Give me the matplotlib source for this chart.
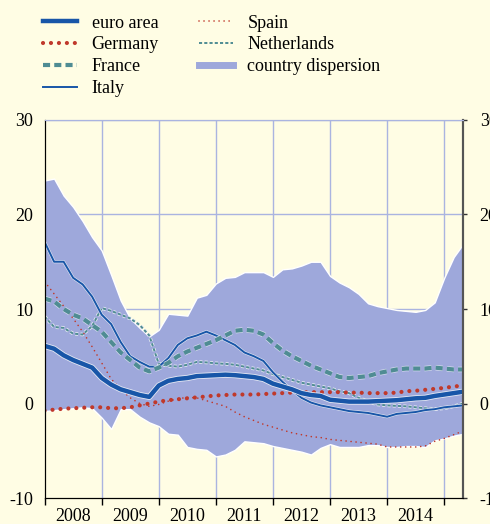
import numpy as np
import pandas as pd
import matplotlib
matplotlib.use("Agg")
import matplotlib.pyplot as plt
import matplotlib.patheffects as pe
from matplotlib.lines import Line2D

# --- DATA (bi-monthly, Jan 2008 - May 2015, %) ---
dates = pd.date_range("2008-01-01", periods=45, freq="2MS")

euro_area = [6.1, 5.8, 5.1, 4.6, 4.2, 3.8, 2.7, 2.0, 1.5, 1.2, 0.9, 0.7, 1.9, 2.4, 2.6,
             2.7, 2.9, 2.95, 3.0, 3.05, 3.0, 2.9, 2.8, 2.6, 2.1, 1.8, 1.5, 1.1, 0.9, 0.8,
             0.4, 0.3, 0.2, 0.2, 0.2, 0.25, 0.3, 0.35, 0.45, 0.55, 0.6, 0.8, 0.95, 1.1, 1.25]
germany = [-0.75, -0.65, -0.55, -0.5, -0.45, -0.4, -0.4, -0.5, -0.5, -0.4, -0.2, 0.0, 0.2,
           0.35, 0.45, 0.55, 0.65, 0.75, 0.85, 0.9, 0.95, 0.95, 0.95, 1.0, 1.05, 1.1, 1.15,
           1.2, 1.2, 1.2, 1.2, 1.2, 1.15, 1.15, 1.1, 1.1, 1.1, 1.15, 1.3, 1.35, 1.45, 1.55,
           1.65, 1.8, 1.9]
france = [11.1, 10.8, 10.0, 9.4, 9.0, 8.3, 7.6, 6.5, 5.4, 4.6, 3.8, 3.4, 3.8, 4.3, 5.0,
          5.5, 5.9, 6.3, 6.7, 7.2, 7.7, 7.8, 7.7, 7.3, 6.4, 5.6, 5.0, 4.5, 4.0, 3.6,
          3.2, 2.8, 2.7, 2.8, 2.9, 3.2, 3.4, 3.6, 3.7, 3.7, 3.7, 3.8, 3.7, 3.6, 3.6]
italy = [17.1, 15.0, 15.0, 13.3, 12.6, 11.3, 9.4, 8.4, 6.5, 5.0, 4.4, 3.9, 3.9, 4.8, 6.2,
         6.9, 7.2, 7.6, 7.2, 6.7, 6.2, 5.4, 5.0, 4.5, 3.3, 2.3, 1.4, 0.6, 0.1, -0.2,
         -0.4, -0.6, -0.8, -0.9, -1.0, -1.2, -1.4, -1.1, -1.0, -0.9, -0.7, -0.6, -0.4, -0.3, -0.2]
spain = [12.9, 11.6, 10.3, 9.0, 7.6, 6.0, 4.3, 2.6, 1.5, 0.6, 0.0, -0.3, -0.1, 0.25, 0.5,
         0.65, 0.6, 0.3, 0.0, -0.3, -0.9, -1.4, -1.8, -2.2, -2.5, -2.8, -3.1, -3.3, -3.5, -3.6,
         -3.8, -3.9, -4.0, -4.1, -4.2, -4.3, -4.6, -4.6, -4.6, -4.6, -4.5, -4.0, -3.7, -3.3, -2.9]
netherlands = [9.2, 8.1, 8.0, 7.4, 7.3, 8.2, 10.1, 9.8, 9.4, 9.0, 8.3, 7.2, 4.2, 4.0, 3.9,
               4.1, 4.4, 4.35, 4.25, 4.2, 4.1, 3.9, 3.7, 3.5, 3.1, 2.8, 2.5, 2.2, 2.0, 1.8,
               1.6, 1.3, 1.1, 0.6, 0.2, -0.1, -0.2, -0.25, -0.3, -0.4, -0.5, -0.6, -0.5, -0.3, 0.0]
disp_high = [23.6, 23.8, 22.0, 20.8, 19.3, 17.6, 16.2, 13.6, 10.9, 9.0, 8.0, 7.1, 7.8, 9.5, 9.4,
             9.3, 11.2, 11.5, 12.7, 13.3, 13.4, 13.9, 13.9, 13.9, 13.4, 14.2, 14.3, 14.6, 15.0, 15.0,
             13.5, 12.8, 12.3, 11.6, 10.6, 10.3, 10.1, 9.9, 9.8, 9.7, 9.9, 10.7, 13.3, 15.5, 16.9]
disp_low = [-0.8, -0.7, -0.6, -0.5, -0.4, -0.5, -1.5, -2.7, -0.6, -0.6, -1.4, -2.0, -2.4, -3.2, -3.3,
            -4.6, -4.8, -4.9, -5.6, -5.4, -4.9, -4.0, -4.1, -4.2, -4.5, -4.7, -4.9, -5.1, -5.4, -4.7,
            -4.3, -4.6, -4.6, -4.6, -4.4, -4.4, -4.6, -4.6, -4.5, -4.5, -4.6, -3.9, -3.7, -3.4, -3.2]

years = [2008, 2009, 2010, 2011, 2012, 2013, 2014]
y_ticks = [-10, 0, 10, 20, 30]

# --- STYLE ---
BG = "#fffde4"
BLUE = "#1856a8"
RED = "#c0392b"
TEAL = "#4f8c93"
FILL = "#9ea8db"
GRID = "#aab4e0"

plt.rcParams["font.family"] = ["Liberation Serif", "DejaVu Serif"]
plt.rcParams["font.size"] = 13

x = dates.year + (dates.month - 1) / 12.0


def halo(lw, color="#e6e9f4", extra=1.2):
    return [pe.Stroke(linewidth=lw + extra, foreground=color), pe.Normal()]


fig = plt.figure(figsize=(4.9, 5.24), dpi=100, facecolor=BG)
ax = fig.add_axes([0.091, 0.0496, 0.854, 0.7214])
ax.set_facecolor(BG)

ax.fill_between(x, disp_low, disp_high, color=FILL, edgecolor="white", linewidth=1.0, zorder=2)

ax.plot(x, spain, color=RED, lw=1.2, linestyle=(0, (0.01, 3.0)), dash_capstyle="round", zorder=3)
ax.plot(x, netherlands, color=TEAL, lw=1.4, linestyle=(0, (1.6, 1.1)), zorder=3,
        path_effects=halo(1.4))
ax.plot(x, italy, color=BLUE, lw=1.4, zorder=4, path_effects=halo(1.4, extra=0.8))
ax.plot(x, france, color=TEAL, lw=3.0, linestyle=(0, (1.7, 1.0)), zorder=4,
        path_effects=halo(3.0, "#d4daee", extra=1.0))
ax.plot(x, germany, color=RED, lw=3.0, linestyle=(0, (0.01, 1.9)), dash_capstyle="round", zorder=5)
ax.plot(x, euro_area, color=BLUE, lw=3.2, zorder=6, path_effects=halo(3.2))

ax.set_xlim(2008.03, 2015.33)
ax.set_ylim(-10, 30)

# grid: vertical at year starts, horizontal every 10
for yr in years[1:] + [2015]:
    ax.axvline(yr, color=GRID, lw=1.0, zorder=1)
for yv in [0, 10, 20, 30]:
    ax.axhline(yv, color=GRID, lw=1.0, zorder=1)

ax.set_xticks([yr for yr in years] + [2015])
ax.set_xticklabels([])
ax.set_xticks([yr + 0.5 for yr in years], minor=True)
ax.set_xticklabels([str(yr) for yr in years], minor=True)
ax.tick_params(axis="x", which="major", length=5, width=1, direction="out", color="black")
ax.tick_params(axis="x", which="minor", length=0, pad=7)

ax.set_yticks(y_ticks)
ax.set_yticklabels([str(v) for v in y_ticks])
ax.tick_params(axis="y", length=0, pad=8)

ax2 = ax.twinx()
ax2.set_ylim(-10, 30)
ax2.set_yticks(y_ticks)
ax2.set_yticklabels([str(v) for v in y_ticks])
ax2.tick_params(axis="y", length=3, width=1, pad=9, color="#333333")

for a in (ax, ax2):
    a.spines["top"].set_color(GRID)
    a.spines["left"].set_color("black")
    a.spines["bottom"].set_color("black")
    a.spines["right"].set_color("#555555")
    a.spines["right"].set_linewidth(1.5)

handles = [
    Line2D([], [], color=BLUE, lw=3.2),
    Line2D([], [], color=RED, lw=3.0, linestyle=(0, (0.01, 1.9)), dash_capstyle="round"),
    Line2D([], [], color=TEAL, lw=3.0, linestyle=(0, (1.7, 1.0))),
    Line2D([], [], color=BLUE, lw=1.4),
    Line2D([], [], color=RED, lw=1.2, linestyle=(0, (0.01, 3.0)), dash_capstyle="round"),
    Line2D([], [], color=TEAL, lw=1.4, linestyle=(0, (1.6, 1.1))),
    Line2D([], [], color=FILL, lw=5),
]
labels = ["euro area", "Germany", "France", "Italy", "Spain", "Netherlands", "country dispersion"]
fig.legend(handles, labels, loc="upper left", bbox_to_anchor=(43 / 490, 1 - 14.5 / 524),
           ncol=2, frameon=False, borderpad=0, borderaxespad=0, handlelength=1.9,
           handletextpad=0.8, columnspacing=2.2, labelspacing=0.27, fontsize=13)

fig.savefig("out.png", dpi=100, facecolor=BG)
